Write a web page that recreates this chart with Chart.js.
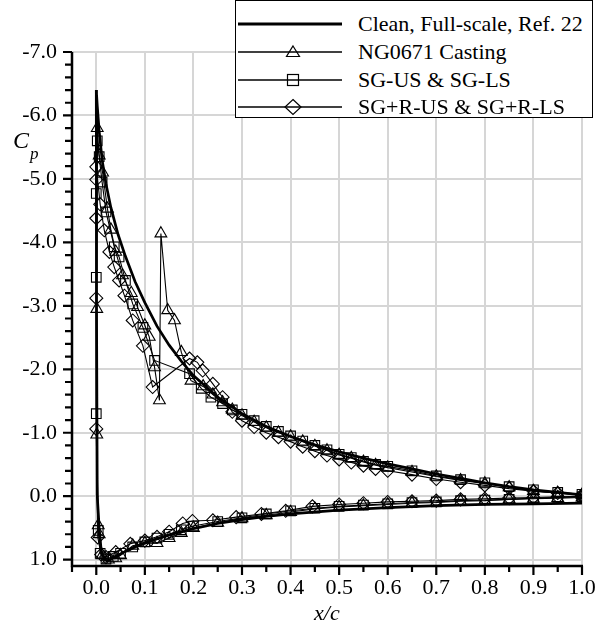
<!DOCTYPE html>
<html>
<head>
<meta charset="utf-8">
<script src="https://cdn.jsdelivr.net/npm/chart.js@4.4.1/dist/chart.umd.min.js"></script>
<style>
  html, body { margin: 0; padding: 0; background: #fff; }
  #wrap { position: relative; width: 608px; height: 628px; font-family: 'Liberation Serif', 'Times New Roman', serif; color: #000; }
  #chart { position: absolute; left: 0; top: 0; }
  .legend { position: absolute; left: 235px; top: 0; width: 356px; height: 116px; border: 1.5px solid #000; background: #fff; }
  .sample { position: absolute; left: 237px; }
  .ltext { position: absolute; left: 358px; font-size: 22px; line-height: 28px; white-space: nowrap; }
  .lbl { position: absolute; font-style: italic; line-height: 1; white-space: nowrap; }
</style>
</head>
<body>
<div id="wrap">
  <canvas id="chart" width="608" height="628"></canvas>

  <div class="legend"></div>
  <svg class="sample" style="top:14px" width="108" height="20">
    <line x1="1" y1="10" x2="105" y2="10" stroke="#000" stroke-width="3"/>
  </svg>
  <div class="ltext" style="top:10px">Clean, Full-scale, Ref. 22</div>
  <svg class="sample" style="top:42px" width="108" height="20">
    <line x1="1" y1="10" x2="105" y2="10" stroke="#000" stroke-width="1.3"/>
    <polygon points="56,4 62.5,14.5 49.5,14.5" fill="none" stroke="#000" stroke-width="1.2"/>
  </svg>
  <div class="ltext" style="top:38px">NG0671 Casting</div>
  <svg class="sample" style="top:70px" width="108" height="20">
    <line x1="1" y1="10" x2="105" y2="10" stroke="#000" stroke-width="1.3"/>
    <rect x="50.5" y="4.5" width="11" height="11" fill="none" stroke="#000" stroke-width="1.2"/>
  </svg>
  <div class="ltext" style="top:66px">SG-US &amp; SG-LS</div>
  <svg class="sample" style="top:97px" width="108" height="20">
    <line x1="1" y1="10" x2="105" y2="10" stroke="#000" stroke-width="1.3"/>
    <polygon points="56,2.5 64,10 56,17.5 48,10" fill="none" stroke="#000" stroke-width="1.2"/>
  </svg>
  <div class="ltext" style="top:93px">SG+R-US &amp; SG+R-LS</div>

  <div class="lbl" style="left:13px; top:128px; font-size:24px">C</div>
  <div class="lbl" style="left:30px; top:145px; font-size:17px">p</div>
  <div class="lbl" style="left:314px; top:602px; font-size:22px">x/c</div>
</div>

<script>
// clean airfoil, full scale (Ref. 22): upper surface TE -> LE, then lower surface LE -> TE
const cleanX = [1.0, 0.95, 0.9, 0.85, 0.8, 0.75, 0.7, 0.65, 0.6, 0.55,
    0.5, 0.45, 0.4, 0.35, 0.3, 0.25, 0.2, 0.175, 0.15, 0.125,
    0.1, 0.08, 0.06, 0.045, 0.03, 0.02, 0.012, 0.006, 0.002, 0.0,
    0.0005, 0.002, 0.006, 0.01, 0.016, 0.022, 0.03, 0.04, 0.06, 0.08,
    0.1, 0.13, 0.16, 0.2, 0.25, 0.3, 0.35, 0.4, 0.5, 0.6,
    0.7, 0.8, 0.9, 1.0];
const cleanCp = [-0.02, -0.06, -0.1, -0.15, -0.21, -0.28, -0.35, -0.43, -0.51, -0.6,
    -0.7, -0.81, -0.94, -1.1, -1.3, -1.56, -1.9, -2.13, -2.38, -2.68,
    -3.05, -3.38, -3.78, -4.12, -4.55, -4.92, -5.3, -5.75, -6.15, -6.4,
    -3.0, 0.0, 0.5, 0.85, 0.99, 1.02, 0.99, 0.95, 0.87, 0.8,
    0.74, 0.66, 0.59, 0.51, 0.43, 0.37, 0.32, 0.28, 0.22, 0.18,
    0.15, 0.13, 0.12, 0.11];

// NG0671 casting (triangles)
const castX = [1.0, 0.95, 0.9, 0.85, 0.8, 0.75, 0.7, 0.65, 0.6, 0.575,
    0.55, 0.525, 0.5, 0.475, 0.45, 0.425, 0.4, 0.375, 0.35, 0.325,
    0.3, 0.28, 0.26, 0.24, 0.22, 0.195, 0.175, 0.161, 0.147, 0.133,
    0.13, 0.12, 0.109, 0.1, 0.085, 0.072, 0.054, 0.04, 0.03, 0.023,
    0.013, 0.006, 0.002,
    0.001, 0.001, 0.004, 0.006,
    0.012, 0.025, 0.04, 0.05, 0.075, 0.1, 0.125, 0.15, 0.175, 0.2,
    0.25, 0.3, 0.35, 0.4, 0.45, 0.5, 0.55, 0.6, 0.65, 0.7,
    0.75, 0.8, 0.85, 0.9, 0.95, 1.0];
const castCp = [-0.02, -0.05, -0.08, -0.14, -0.2, -0.25, -0.31, -0.38, -0.45, -0.49,
    -0.54, -0.6, -0.65, -0.72, -0.79, -0.86, -0.94, -1.0, -1.08, -1.17,
    -1.27, -1.36, -1.48, -1.6, -1.73, -1.82, -2.27, -2.77, -2.93, -4.14,
    -1.51, -2.03, -2.51, -2.69, -2.98, -3.2, -3.48, -3.85, -4.2, -4.53,
    -5.1, -5.37, -5.8,
    -2.95, -0.97, 0.46, 0.6,
    0.93, 1.0, 0.98, 0.93, 0.78, 0.74, 0.74, 0.66, 0.58, 0.5,
    0.42, 0.35, 0.3, 0.25, 0.2, 0.17, 0.15, 0.13, 0.11, 0.1,
    0.08, 0.07, 0.05, 0.04, 0.03, 0.02];

// SG-US & SG-LS (squares)
const sgX = [1.0, 0.95, 0.9, 0.85, 0.8, 0.75, 0.7, 0.65, 0.6, 0.575,
    0.55, 0.525, 0.5, 0.475, 0.45, 0.425, 0.4, 0.375, 0.35, 0.325,
    0.3, 0.28, 0.26, 0.236, 0.216, 0.192, 0.12, 0.096, 0.075, 0.06,
    0.047, 0.037, 0.02, 0.012, 0.006, 0.002, 0.0, 0.0, 0.0,
    0.004, 0.008, 0.02, 0.035, 0.05, 0.075, 0.1, 0.125, 0.15, 0.175,
    0.2, 0.25, 0.3, 0.35, 0.4, 0.45, 0.5, 0.55, 0.6, 0.65,
    0.7, 0.75, 0.8, 0.85, 0.9, 0.95, 1.0];
const sgCp = [-0.03, -0.06, -0.1, -0.15, -0.21, -0.26, -0.32, -0.4, -0.47, -0.5,
    -0.55, -0.61, -0.66, -0.73, -0.8, -0.87, -0.95, -1.02, -1.1, -1.19,
    -1.29, -1.36, -1.46, -1.56, -1.7, -1.93, -2.14, -2.66, -3.03, -3.4,
    -3.77, -3.93, -4.48, -4.95, -5.35, -5.6, -4.77, -3.45, -1.3,
    0.54, 0.9, 0.99, 0.95, 0.9, 0.8, 0.72, 0.66, 0.6, 0.53,
    0.47, 0.4, 0.34, 0.28, 0.23, 0.19, 0.16, 0.14, 0.12, 0.1,
    0.09, 0.07, 0.06, 0.05, 0.03, 0.02, 0.01];

// SG+R-US & SG+R-LS (diamonds)
const sgrX = [1.0, 0.95, 0.9, 0.85, 0.8, 0.75, 0.7, 0.65, 0.6, 0.575,
    0.55, 0.525, 0.5, 0.475, 0.45, 0.425, 0.4, 0.375, 0.35, 0.325,
    0.3, 0.28, 0.26, 0.24, 0.219, 0.208, 0.192, 0.116, 0.096, 0.075,
    0.058, 0.047, 0.037, 0.027, 0.0165, 0.008, 0.0, 0.0, 0.0, 0.0,
    0.0, 0.003,
    0.01, 0.02, 0.04, 0.07, 0.1, 0.125, 0.15, 0.178, 0.198, 0.24,
    0.288, 0.34, 0.39, 0.445, 0.5, 0.55, 0.6, 0.65, 0.7, 0.75,
    0.8, 0.85, 0.9, 0.95, 1.0];
const sgrCp = [-0.02, -0.05, -0.08, -0.12, -0.17, -0.22, -0.27, -0.34, -0.4, -0.43,
    -0.48, -0.53, -0.58, -0.64, -0.71, -0.78, -0.86, -0.93, -1.0, -1.09,
    -1.19, -1.33, -1.56, -1.77, -1.98, -2.11, -2.17, -1.72, -2.37, -2.77,
    -3.16, -3.4, -3.61, -3.85, -4.19, -4.6, -5.19, -4.99, -4.38, -3.12,
    -1.06, 0.65,
    0.92, 0.96, 0.88, 0.75, 0.7, 0.64, 0.56, 0.43, 0.39, 0.38,
    0.33, 0.28, 0.23, 0.16, 0.13, 0.11, 0.09, 0.08, 0.07, 0.05,
    0.04, 0.03, 0.02, 0.01, 0.0];

// axes
const xTickValues = [0, 0.1, 0.2, 0.3, 0.4, 0.5, 0.6, 0.7, 0.8, 0.9, 1.0];
const xTickLabels = ["0.0", "0.1", "0.2", "0.3", "0.4", "0.5", "0.6", "0.7", "0.8", "0.9", "1.0"];
const xMinorTicks = [-0.05, 0.05, 0.15, 0.25, 0.35, 0.45, 0.55, 0.65, 0.75, 0.85, 0.95];
const yTickValues = [-7, -6, -5, -4, -3, -2, -1, 0, 1];
const yTickLabels = ["-7.0", "-6.0", "-5.0", "-4.0", "-3.0", "-2.0", "-1.0", "0.0", "1.0"];
const yMinorTicks = [];
yTickValues.slice(0, -1).forEach(v => {
    for (let k = 1; k < 5; k++) yMinorTicks.push(v + k * 0.2);
});

function toPoints(xs, ys) {
    return xs.map((x, i) => ({ x: x, y: ys[i] }));
}

// the little outward ticks (major + minor) and the black axis lines
const axisTicks = {
    id: "axisTicks",
    afterDraw(chart) {
        const { ctx, chartArea } = chart;
        const xs = chart.scales.x;
        const ys = chart.scales.y;
        const b = chartArea.bottom;
        const l = chartArea.left;

        ctx.save();
        ctx.strokeStyle = "#000";
        ctx.lineWidth = 2.5;
        ctx.beginPath();
        ctx.moveTo(l, chartArea.top);
        ctx.lineTo(l, b);
        ctx.lineTo(chartArea.right + 1, b);
        ctx.stroke();

        ctx.lineWidth = 2.2;
        ctx.beginPath();
        xTickValues.forEach(v => {
            const p = xs.getPixelForValue(v);
            ctx.moveTo(p, b); ctx.lineTo(p, b + 9);
        });
        xMinorTicks.forEach(v => {
            const p = xs.getPixelForValue(v);
            ctx.moveTo(p, b); ctx.lineTo(p, b + 6);
        });
        yTickValues.forEach(v => {
            const p = ys.getPixelForValue(v);
            ctx.moveTo(l, p); ctx.lineTo(l - 9, p);
        });
        yMinorTicks.forEach(v => {
            const p = ys.getPixelForValue(v);
            ctx.moveTo(l, p); ctx.lineTo(l - 7, p);
        });
        ctx.stroke();
        ctx.restore();
    }
};

const tickFont = { family: "'Liberation Serif', 'Times New Roman', serif", size: 22 };
const gridStyle = { color: "#d6d6d6", lineWidth: 2, drawTicks: false };

new Chart(document.getElementById("chart"), {
    type: "scatter",
    data: {
        datasets: [
            {
                label: "Clean, Full-scale, Ref. 22",
                data: toPoints(cleanX, cleanCp),
                showLine: true,
                borderColor: "#000",
                borderWidth: 2.7,
                pointRadius: 0,
                order: 0
            },
            {
                label: "NG0671 Casting",
                data: toPoints(castX, castCp),
                showLine: true,
                borderColor: "#000",
                borderWidth: 1.1,
                pointStyle: "triangle",
                pointRadius: 6.8,
                pointBorderWidth: 1.1,
                pointBorderColor: "#000",
                pointBackgroundColor: "rgba(0,0,0,0)",
                order: 1
            },
            {
                label: "SG-US & SG-LS",
                data: toPoints(sgX, sgCp),
                showLine: true,
                borderColor: "#000",
                borderWidth: 1.1,
                pointStyle: "rect",
                pointRadius: 6.8,
                pointBorderWidth: 1.1,
                pointBorderColor: "#000",
                pointBackgroundColor: "rgba(0,0,0,0)",
                order: 2
            },
            {
                label: "SG+R-US & SG+R-LS",
                data: toPoints(sgrX, sgrCp),
                showLine: true,
                borderColor: "#000",
                borderWidth: 1.1,
                pointStyle: "rectRot",
                pointRadius: 6.5,
                pointBorderWidth: 1.1,
                pointBorderColor: "#000",
                pointBackgroundColor: "rgba(0,0,0,0)",
                order: 3
            }
        ]
    },
    options: {
        responsive: false,
        animation: false,
        devicePixelRatio: 1,
        layout: { padding: { top: 52, right: 26, left: 0, bottom: 0 } },
        plugins: {
            legend: { display: false },
            tooltip: { enabled: false }
        },
        scales: {
            x: {
                type: "linear",
                min: -0.05,
                max: 1.0,
                border: { display: false },
                grid: gridStyle,
                afterBuildTicks: scale => { scale.ticks = xTickValues.map(v => ({ value: v })); },
                afterFit: scale => { scale.height = 62; },
                ticks: {
                    autoSkip: false,
                    maxRotation: 0,
                    padding: 9,
                    color: "#000",
                    font: tickFont,
                    callback: (v, i) => xTickLabels[i]
                }
            },
            y: {
                type: "linear",
                reverse: true,
                min: -7,
                max: 1.1,
                border: { display: false },
                grid: gridStyle,
                afterBuildTicks: scale => { scale.ticks = yTickValues.map(v => ({ value: v })); },
                afterFit: scale => { scale.width = 72; },
                ticks: {
                    autoSkip: false,
                    padding: 15,
                    color: "#000",
                    font: tickFont,
                    callback: (v, i) => yTickLabels[i]
                }
            }
        }
    },
    plugins: [axisTicks]
});
</script>
</body>
</html>
